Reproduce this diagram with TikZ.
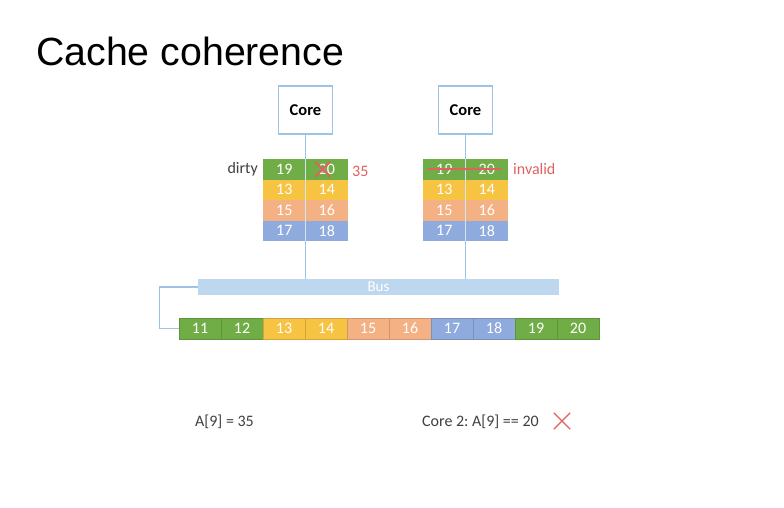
\documentclass[tikz,border=0pt]{standalone}
\usepackage{fontspec}
\setmainfont{Carlito}
\newfontfamily\titlefont{Liberation Sans}
\usetikzlibrary{shapes.misc}
\frenchspacing
\definecolor{mgreen}{HTML}{70AD47}
\definecolor{myellow}{HTML}{F6C343}
\definecolor{mpeach}{HTML}{F4B183}
\definecolor{mblue}{HTML}{8FAADC}
\definecolor{busblue}{HTML}{BDD7EE}
\definecolor{boxblue}{HTML}{9DC3E6}
\definecolor{xred}{HTML}{E0615F}
\definecolor{txtgray}{HTML}{404040}
\tikzset{
  cell/.style={minimum width=42.5pt, minimum height=20.5pt, inner sep=0pt, outer sep=0pt,
    text=white, font=\fontsize{16}{16}\selectfont},
  memcell/.style={cell, minimum width=42pt, minimum height=21pt, draw=#1!85!black, line width=0.4pt, fill=#1},
  corebox/.style={draw=boxblue, line width=1.2pt, fill=white, minimum width=54pt, minimum height=48pt,
    font=\bfseries\fontsize{16.5}{16.5}\selectfont},
  link/.style={draw=boxblue, line width=1.2pt},
  note/.style={inner sep=0pt, font=\fontsize{16}{16}\selectfont, text=#1},
  note/.default=txtgray,
  crossmark/.style={cross out, draw=xred, inner sep=0pt, minimum size=#1}
}
\begin{document}
\begin{tikzpicture}[x=1pt,y=-1pt]
  \fill[white] (0,0) rectangle (784,508);
  \useasboundingbox (0,0) rectangle (784,508);
  \node[anchor=base west, inner sep=0pt, font=\titlefont\fontsize{39.3}{39.3}\selectfont] (title) at (36,66) {Cache coherence};

  \node[fill=busblue, minimum width=361pt, minimum height=16pt, inner sep=0pt, text=white,
    font=\fontsize{15}{15}\selectfont] (bus) at (378.5,287) {Bus};

  \node[corebox] (core1) at (305.5,110) {Core};
  \node[corebox] (core2) at (465.5,110) {Core};
  \draw[link] (core1) -- (core1 |- bus.north);
  \draw[link] (core2) -- (core2 |- bus.north);

  \foreach \row/\clr/\a/\b in {1/mgreen/19/20, 2/myellow/13/14, 3/mpeach/15/16, 4/mblue/17/18} {
    \node[cell, fill=\clr] (p\row a) at (284.25,148.75+20.5*\row) {\a};
    \node[cell, fill=\clr] (p\row b) at (326.75,148.75+20.5*\row) {\b};
    \node[cell, fill=\clr] (q\row a) at (444.25,148.75+20.5*\row) {\a};
    \node[cell, fill=\clr] (q\row b) at (486.75,148.75+20.5*\row) {\b};
  }
  \draw[white!55!boxblue, line width=0.6pt] (p1a.north east) -- (p4a.south east);
  \draw[white!55!boxblue, line width=0.6pt] (q1a.north east) -- (q4a.south east);

  \node[crossmark=13pt, line width=2pt] (x1) at ([xshift=-4pt]p1b.center) {};
  \draw[xred, line width=2pt] ([xshift=5pt]q1a.west) -- ([xshift=-7pt]q1b.east);

  \node[note, anchor=east] (dirty) at ([xshift=-5pt]p1a.west) {dirty};
  \node[note=xred, anchor=west] (val) at ([xshift=4pt,yshift=-2pt]p1b.east) {35};
  \node[note=xred, anchor=west] (inv) at ([xshift=5pt]q1b.east) {invalid};

  \foreach \n/\clr [count=\i] in {11/mgreen, 12/mgreen, 13/myellow, 14/myellow, 15/mpeach,
    16/mpeach, 17/mblue, 18/mblue, 19/mgreen, 20/mgreen} {
    \node[memcell=\clr] (m\i) at (158+42*\i,328.5) {\n};
  }
  \draw[link] (bus.west) -- ++(-38,0) |- (m1.west);

  \node[note, anchor=west] (res1) at (195,422) {A[9] = 35};
  \node[note, anchor=west] (res2) at (422,422) {Core 2: A[9] == 20};
  \node[crossmark=15pt, line width=1.3pt] (x2) at (562,421) {};
\end{tikzpicture}
\end{document}
